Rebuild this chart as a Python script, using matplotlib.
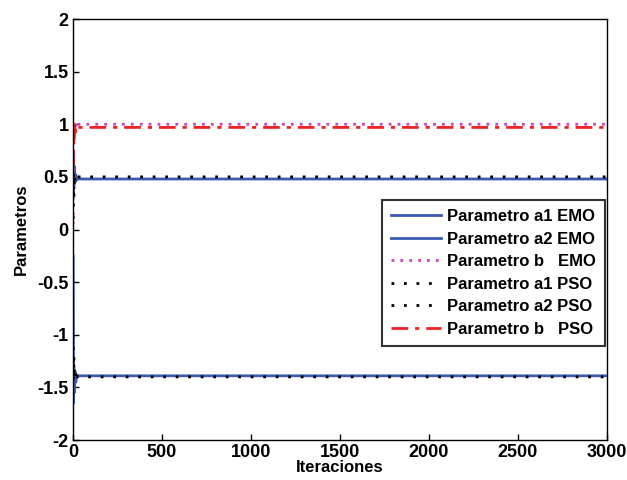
import matplotlib
matplotlib.use("Agg")
import matplotlib.pyplot as plt

iters = [1, 3, 5, 8, 12, 16, 20, 25, 30, 3000]
a1_emo = [-0.25, -1.65, -1.30, -1.55, -1.35, -1.45, -1.38, -1.40, -1.39, -1.39]
a2_emo = [0.30, 0.75, 0.40, 0.60, 0.45, 0.52, 0.47, 0.49, 0.48, 0.48]
b_emo = [0.05, 0.60, 1.02, 0.85, 1.03, 0.97, 1.01, 1.00, 1.00, 1.00]
a1_pso = [-1.00, -1.45, -1.20, -1.42, -1.35, -1.41, -1.39, -1.40, -1.40, -1.40]
a2_pso = [0.10, 0.55, 0.30, 0.52, 0.45, 0.50, 0.49, 0.50, 0.50, 0.50]
b_pso = [0.60, 0.95, 0.80, 1.00, 0.92, 0.98, 0.96, 0.97, 0.97, 0.97]

labels = ["Parametro a1 EMO", "Parametro a2 EMO", "Parametro b   EMO",
          "Parametro a1 PSO", "Parametro a2 PSO", "Parametro b   PSO"]
xticks = [0, 500, 1000, 1500, 2000, 2500, 3000]
yticks = [-2, -1.5, -1, -0.5, 0, 0.5, 1, 1.5, 2]
yticklabels = ["-2", "-1.5", "-1", "-0.5", "0", "0.5", "1", "1.5", "2"]

plt.rcParams['font.family'] = ['Liberation Sans', 'DejaVu Sans']
plt.rcParams['font.weight'] = 'bold'

fig = plt.figure(figsize=(6.27, 4.8), dpi=100)
ax = fig.add_axes([0.1164, 0.0833, 0.8517, 0.8771])

blue = '#3a5bb0'
ax.plot(iters, a1_emo, color=blue, lw=2, label=labels[0])
ax.plot(iters, a2_emo, color=blue, lw=2, label=labels[1])
ax.plot(iters, b_emo, color='#cc44bb', lw=2, ls=(0, (1, 2.2)), label=labels[2])
ax.plot(iters, a1_pso, color='black', lw=2, ls=(0, (1, 3.5)), label=labels[3])
ax.plot(iters, a2_pso, color='black', lw=2, ls=(0, (1, 3.5)), label=labels[4])
ax.plot(iters, b_pso, color='#ee2222', lw=2, ls=(0, (6, 2.5, 1.5, 2.5)), label=labels[5])

ax.set_xlim(0, 3000)
ax.set_ylim(-2, 2)
ax.set_xticks(xticks)
ax.set_yticks(yticks)
ax.set_yticklabels(yticklabels)
ax.tick_params(direction='in', length=4, labelsize=13, width=1, pad=3)
for lbl in ax.get_xticklabels() + ax.get_yticklabels():
    lbl.set_fontweight('bold')
ax.set_xlabel("Iteraciones", fontsize=12, fontweight='bold', labelpad=-1)
ax.set_ylabel("Parametros", fontsize=12, fontweight='bold', labelpad=6)
for s in ax.spines.values():
    s.set_linewidth(1)

leg = ax.legend(loc='upper right', bbox_to_anchor=(0.996, 0.570), fontsize=12,
                frameon=True, fancybox=False, edgecolor='black', handlelength=3.0,
                borderpad=0.55, labelspacing=0.45, handletextpad=0.35,
                borderaxespad=0)
leg.get_frame().set_linewidth(1.5)
for t in leg.get_texts():
    t.set_fontweight('bold')

fig.savefig("out.png", dpi=100)
